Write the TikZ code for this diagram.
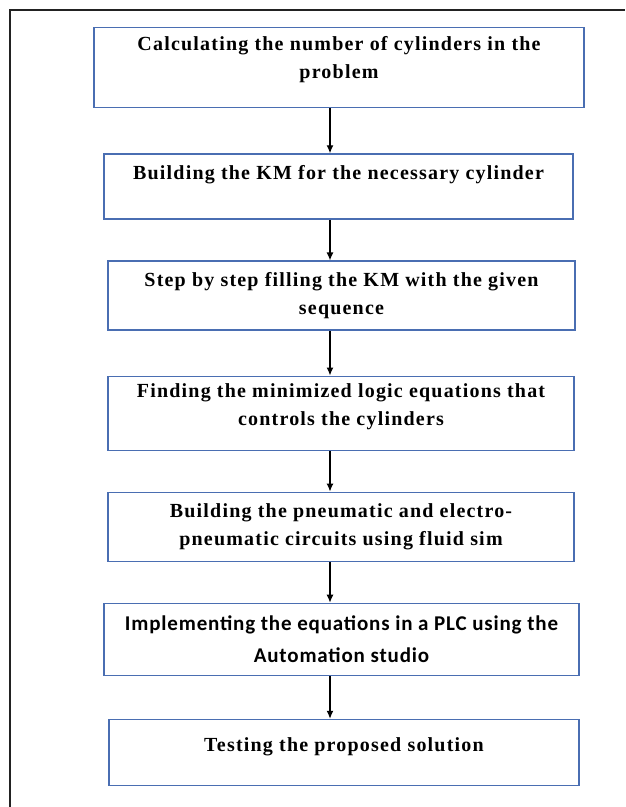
\documentclass[tikz,border=0pt]{standalone}
\usepackage{fontspec}
\setmainfont{Liberation Serif}[LetterSpace=6]
\newfontfamily\plcfont{Carlito}[LetterSpace=4]
\usetikzlibrary{arrows.meta,positioning}
\definecolor{BoxBlue}{HTML}{4A6EB2}
\definecolor{FrameGray}{HTML}{222222}

\begin{document}
\begin{tikzpicture}[
    x=1pt, y=1pt,
    font=\fontsize{20}{28}\selectfont\bfseries,
    stepbox/.style={rectangle, draw=BoxBlue, line width=1.6pt, align=center, minimum height=#1},
    lift/.style={text depth=#1},
    arrow/.style={-{Latex[length=8pt,width=7pt]}, line width=1.3pt, draw=black}
]
\useasboundingbox (0,0) rectangle (625,-807);
\draw[FrameGray, line width=1.5pt] (10,-807) |- (625,-10);

\node[stepbox=80pt, minimum width=490pt, lift=20pt] (b1) at (339,-67.5)
    {Calculating the number of cylinders in the\\problem};
\node[stepbox=65pt, minimum width=469pt, below=45pt of b1, xshift=-0.5pt] (b2)
    {Building the KM for the necessary cylinder\\\mbox{}};
\node[stepbox=69pt, minimum width=467pt, below=40.5pt of b2, xshift=3pt] (b3)
    {Step by step filling the KM with the given\\sequence};
\node[stepbox=74pt, minimum width=466pt, lift=18pt, below=44.5pt of b3, xshift=-0.5pt] (b4)
    {Finding the minimized logic equations that\\controls the cylinders};
\node[stepbox=69pt, minimum width=466pt, below=40.5pt of b4] (b5)
    {Building the pneumatic and electro-\\pneumatic circuits using fluid sim};
\node[stepbox=72pt, minimum width=475pt, below=40.5pt of b5, xshift=0.5pt, font=\plcfont\fontsize{21}{32}\selectfont\bfseries] (b6)
    {Implementing the equations in a PLC using the\\Automation studio};
\node[stepbox=66pt, minimum width=470pt, lift=16pt, below=42.5pt of b6, xshift=2.5pt] (b7)
    {Testing the proposed solution};

% arrows sit a little left of the box centres
\coordinate (axis) at (330,0);
\draw[arrow] (b1.south -| axis) -- (b2.north -| axis);
\draw[arrow] (b2.south -| axis) -- (b3.north -| axis);
\draw[arrow] (b3.south -| axis) -- (b4.north -| axis);
\draw[arrow] (b4.south -| axis) -- (b5.north -| axis);
\draw[arrow] (b5.south -| axis) -- (b6.north -| axis);
\draw[arrow] (b6.south -| axis) -- (b7.north -| axis);
\end{tikzpicture}
\end{document}
